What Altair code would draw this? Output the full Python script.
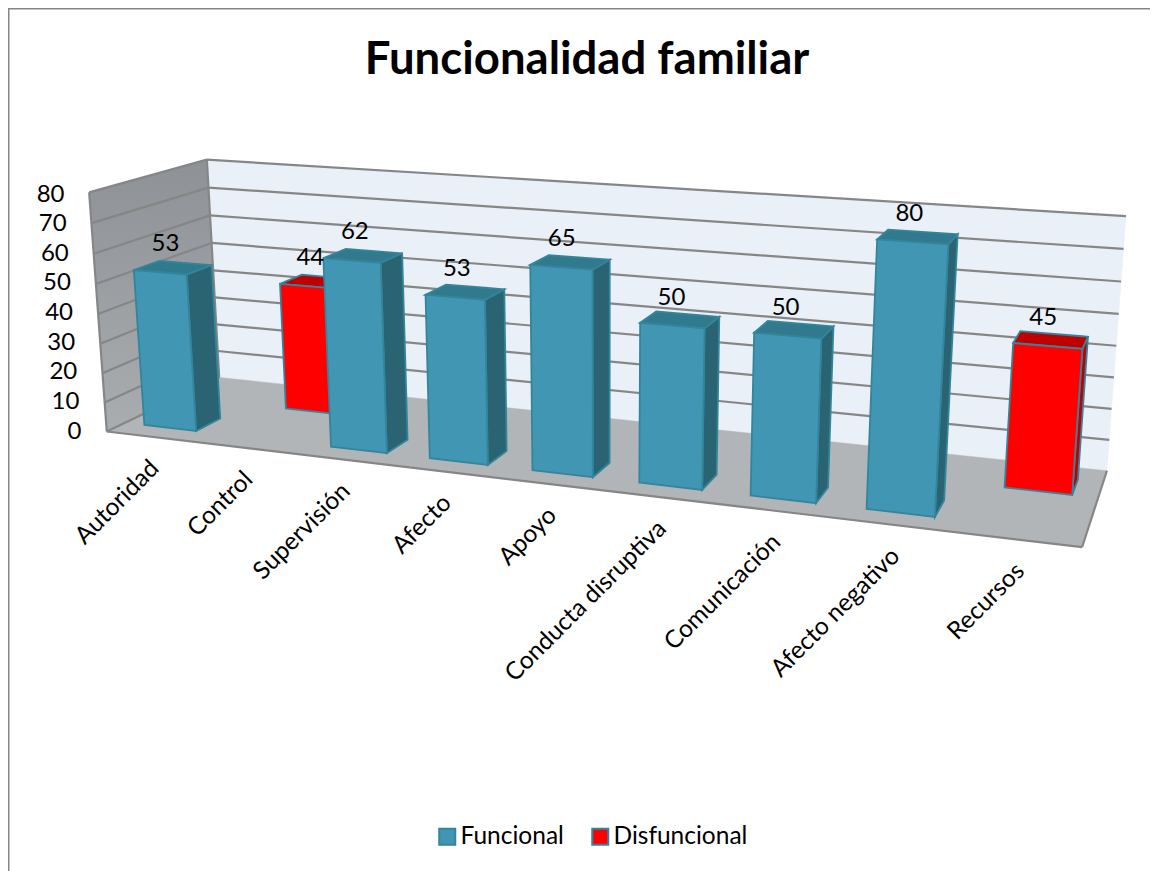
import altair as alt
import numpy as np
import pandas as pd

# ---------- chart values ----------
CATEGORIES = ["Autoridad", "Control", "Supervisión", "Afecto", "Apoyo",
              "Conducta disruptiva", "Comunicación", "Afecto negativo", "Recursos"]
VALUES = [53, 44, 62, 53, 65, 50, 50, 80, 45]
SERIES = ["Funcional", "Disfuncional", "Funcional", "Funcional", "Funcional",
          "Funcional", "Funcional", "Funcional", "Disfuncional"]
SERIES_NAMES = ["Funcional", "Disfuncional"]
TICKS = [0, 10, 20, 30, 40, 50, 60, 70, 80]
VMAX = 80

# ---------- page / styling ----------
W, H = 1142, 863
FONT = "Lato"
PX_PER_UNIT = 2.9625      # left axis labels: pixels per value unit
ZERO_Y = 431              # page y of the axis zero label

FACE = {
    "Funcional": dict(front="#4196b3", side="#2a6372", top="#317a8e", edge="#33859c"),
    "Disfuncional": dict(front="#ff0000", side="#c00000", top="#c00000", edge="#33859c"),
}
WALL_BACK, FLOOR, GRID = "#e9f0f7", "#b1b5b8", "#868686"
WALL_LEFT_TOP, WALL_LEFT_BOTTOM = "#8e9195", "#a9adb0"

# ---------- 3D camera fitted on the box corners (world X, value/80, depth Z -> page) ----------
BOX = [((0, 0, 0), (107, 432)), ((1, 0, 0), (1082, 547)), ((0, 0, 1), (219, 377)),
       ((1, 0, 1), (1107, 471)), ((0, 1, 0), (89, 192)), ((0, 1, 1), (207, 160)),
       ((1, 1, 1), (1126, 216))]
A, b = [], []
for (X, Y, Z), (u, v) in BOX:
    A.append([X, Y, Z, 1, 0, 0, 0, 0, -u * X, -u * Y, -u * Z]); b.append(u)
    A.append([0, 0, 0, 0, X, Y, Z, 1, -v * X, -v * Y, -v * Z]); b.append(v)
P = np.append(np.linalg.lstsq(np.array(A, float), np.array(b, float), rcond=None)[0], 1).reshape(3, 4)


def project(X, value, Z):
    q = P @ np.array([X, value / VMAX, Z, 1.0])
    return float(q[0] / q[2]), float(q[1] / q[2])


def to_x(px):
    return px - 8


def to_v(py):
    return (ZERO_Y - py) / PX_PER_UNIT


DOM_Y = [to_v(8 + H), to_v(8)]


def polygon_rows(name, pts, fill, stroke):
    """Turn a convex polygon into the x / y / y2 rows of an area mark."""
    rows = []
    xs = sorted({round(p[0], 3) for p in pts})
    n = len(pts)
    for x in xs:
        ys = []
        for k in range(n):
            (x0, y0), (x1, y1) = pts[k], pts[(k + 1) % n]
            if min(x0, x1) - 1e-3 <= x <= max(x0, x1) + 1e-3:
                if abs(x1 - x0) < 1e-6:
                    ys += [y0, y1]
                else:
                    ys.append(y0 + (y1 - y0) * (x - x0) / (x1 - x0))
        rows.append(dict(poly=name, sx=to_x(x), v=to_v(min(ys)), v2=to_v(max(ys)), fill=fill, edge=stroke))
    return rows


# ---------- scene ----------
left_wall = polygon_rows("wall_left", [project(0, 0, 0), project(0, VMAX, 0), project(0, VMAX, 1), project(0, 0, 1)],
                         WALL_LEFT_TOP, WALL_LEFT_TOP)
scene = []
scene += polygon_rows("wall_back", [project(0, 0, 1), project(0, VMAX, 1), project(1, VMAX, 1), project(1, 0, 1)],
                      WALL_BACK, WALL_BACK)
scene += polygon_rows("floor", [project(0, 0, 0), project(0, 0, 1), project(1, 0, 1), project(1, 0, 0)],
                      FLOOR, FLOOR)

lines = []


def add_line(name, a, b):
    lines.append(dict(line=name, sx=to_x(a[0]), v=to_v(a[1]), o=0))
    lines.append(dict(line=name, sx=to_x(b[0]), v=to_v(b[1]), o=1))


for t in TICKS[1:]:
    add_line(f"b{t}", project(0, t, 1), project(1, t, 1))
    add_line(f"l{t}", project(0, t, 0), project(0, t, 1))
add_line("edge_left", project(0, 0, 0), project(0, VMAX, 0))
add_line("edge_corner", project(0, 0, 1), project(0, VMAX, 1))
add_line("floor_front", project(0, 0, 0), project(1, 0, 0))
add_line("floor_right", project(1, 0, 0), project(1, 0, 1))
add_line("floor_left", project(0, 0, 0), project(0, 0, 1))

BAR_W = 0.57 / 9
ROW = {"Funcional": (0.15, 0.365), "Disfuncional": (0.62, 0.835)}

bars = []
value_labels = []
cat_labels = []
order = sorted(range(len(VALUES)), key=lambda i: (SERIES[i] == "Funcional", i))
for i in order:
    val, s = VALUES[i], SERIES[i]
    xc = (i + 0.5) / 9
    x0, x1 = xc - BAR_W / 2, xc + BAR_W / 2
    z0, z1 = ROW[s]
    c = FACE[s]
    bars += polygon_rows(f"b{i}_side", [project(x1, 0, z0), project(x1, val, z0), project(x1, val, z1), project(x1, 0, z1)],
                         c["side"], c["edge"])
    bars += polygon_rows(f"b{i}_top", [project(x0, val, z0), project(x0, val, z1), project(x1, val, z1), project(x1, val, z0)],
                         c["top"], c["edge"])
    bars += polygon_rows(f"b{i}_front", [project(x0, 0, z0), project(x0, val, z0), project(x1, val, z0), project(x1, 0, z0)],
                         c["front"], c["edge"])
    tx, ty = project(xc, val, z0)
    value_labels.append(dict(sx=to_x(tx + 6 - 11 * xc), v=to_v(ty - 28), label=str(val)))
    fx, fy = project(xc, 0, 0)
    cat_labels.append(dict(sx=to_x(fx + 3), v=to_v(fy + 28), label=CATEGORIES[i]))

# ---------- encodings ----------
XENC = alt.X("sx:Q", scale=alt.Scale(domain=[0, W], nice=False, zero=False), axis=None)
PADS = {t: 2 + 17 * t / VMAX for t in TICKS}
YAXIS = alt.Axis(values=TICKS, title=None, domain=False, ticks=False, grid=False, offset=-75,
                 labelFont=FONT, labelFontSize=24, labelColor="black",
                 labelPadding={"condition": [{"test": f"datum.value == {t}", "value": PADS[t]} for t in TICKS],
                               "value": 2})
YENC = alt.Y("v:Q", scale=alt.Scale(domain=DOM_Y, nice=False, zero=False), axis=YAXIS)


def area_layer(rows, width):
    return alt.Chart(pd.DataFrame(rows)).mark_area(orient="vertical", strokeWidth=width).encode(
        x=XENC, y=YENC, y2="v2:Q", detail="poly:N",
        fill=alt.Fill("fill:N", scale=None), stroke=alt.Stroke("edge:N", scale=None))


left_gradient = alt.Gradient(gradient="linear", x1=0, x2=0, y1=0, y2=1,
                             stops=[alt.GradientStop(color=WALL_LEFT_TOP, offset=0),
                                    alt.GradientStop(color=WALL_LEFT_BOTTOM, offset=1)])
wall_left = alt.Chart(pd.DataFrame(left_wall)).mark_area(orient="vertical", fill=left_gradient).encode(
    x=XENC, y=YENC, y2="v2:Q")
walls = area_layer(scene, 0.5)
grid = alt.Chart(pd.DataFrame(lines)).mark_line(color=GRID, strokeWidth=2.2).encode(
    x=XENC, y=YENC, detail="line:N", order="o:Q")
bar_layer = area_layer(bars, 1.8)
val_text = alt.Chart(pd.DataFrame(value_labels)).mark_text(font=FONT, fontSize=24, color="black").encode(
    x=XENC, y=YENC, text="label:N")
cat_text = alt.Chart(pd.DataFrame(cat_labels)).mark_text(
    font=FONT, fontSize=24.5, color="black", angle=315, align="right", baseline="middle").encode(
    x=XENC, y=YENC, text="label:N")

legend_df = pd.DataFrame({"serie": SERIES_NAMES, "sx": [0, 0], "v": [0, 0]})
legend_layer = alt.Chart(legend_df).mark_point(shape="square", filled=True, size=1, opacity=0).encode(
    x=XENC, y=YENC,
    color=alt.Color("serie:N", scale=alt.Scale(domain=SERIES_NAMES,
                                               range=[FACE[s]["front"] for s in SERIES_NAMES]),
                    legend=alt.Legend(orient="none", legendX=427, legendY=816, direction="horizontal", title=None,
                                      symbolType="square", symbolSize=256, symbolStrokeColor="#33859c",
                                      symbolStrokeWidth=2, symbolOpacity=1, labelFont=FONT, labelFontSize=24.5,
                                      labelColor="black", columnPadding=24, labelOffset=1)))

frame_df = pd.DataFrame({"k": [0]})
frame_left = alt.Chart(frame_df).mark_rule(color="#868686", strokeWidth=2).encode(
    x=alt.value(0.5), y=alt.value(0), y2=alt.value(H))
frame_top = alt.Chart(frame_df).mark_rule(color="#868686", strokeWidth=2).encode(
    y=alt.value(0.5), x=alt.value(0), x2=alt.value(W))

chart = alt.layer(wall_left, walls, grid, bar_layer, val_text, cat_text, legend_layer, frame_left, frame_top).properties(
    width=W, height=H, padding=0, autosize=alt.AutoSizeParams(type="none"),
    title=alt.TitleParams("Funcionalidad familiar", font=FONT, fontSize=45.5, fontWeight="bold", color="black",
                          anchor="middle", offset=-76, dx=8),
).configure_view(stroke=None)

chart.save("out.html", embed_options={"renderer": "svg", "actions": False})
